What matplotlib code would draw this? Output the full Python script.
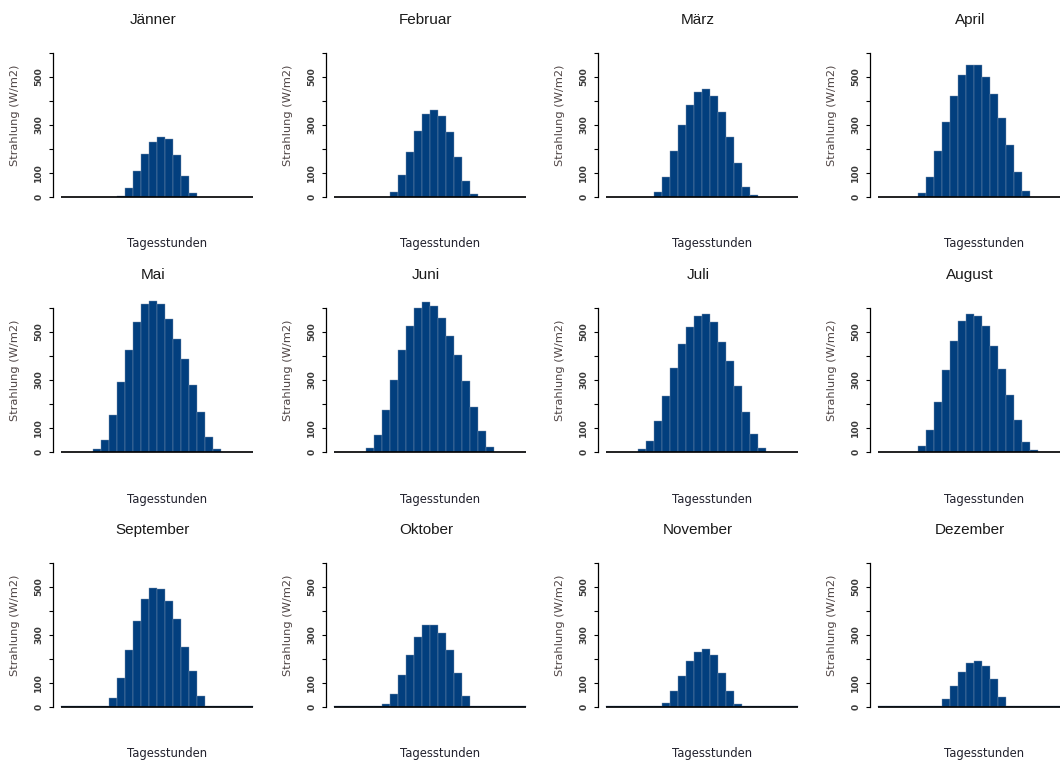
import numpy as np
import matplotlib
matplotlib.use("Agg")
import matplotlib.pyplot as plt

# hourly mean irradiance (W/m2), hours 0..23
months = ["Jänner", "Februar", "März", "April", "Mai", "Juni",
          "Juli", "August", "September", "Oktober", "November", "Dezember"]

jan = [0, 0, 0, 0, 0, 0, 0, 5, 39, 107, 179, 229, 251, 242, 175, 89, 18, 0, 0, 0, 0, 0, 0, 0]
feb = [0, 0, 0, 0, 0, 0, 0, 21, 93, 188, 274, 346, 364, 336, 269, 165, 65, 11, 0, 0, 0, 0, 0, 0]
mar = [0, 0, 0, 0, 0, 0, 21, 83, 193, 300, 382, 436, 450, 422, 354, 251, 142, 42, 7, 0, 0, 0, 0, 0]
apr = [0, 0, 0, 0, 0, 17, 83, 193, 314, 422, 508, 549, 549, 500, 428, 329, 215, 106, 25, 0, 0, 0, 0, 0]
mai = [0, 0, 0, 0, 11, 51, 156, 290, 424, 542, 617, 629, 617, 553, 471, 388, 278, 165, 61, 11, 0, 0, 0, 0]
jun = [0, 0, 0, 0, 15, 71, 174, 300, 424, 526, 599, 625, 607, 558, 482, 404, 296, 189, 88, 19, 0, 0, 0, 0]
jul = [0, 0, 0, 0, 11, 47, 129, 235, 351, 450, 522, 567, 576, 542, 458, 378, 274, 165, 76, 15, 0, 0, 0, 0]
aug = [0, 0, 0, 0, 0, 25, 93, 210, 342, 464, 546, 576, 567, 526, 442, 347, 238, 133, 43, 7, 0, 0, 0, 0]
sep = [4, 4, 4, 4, 4, 4, 39, 121, 238, 360, 450, 496, 490, 442, 365, 251, 149, 47, 4, 4, 4, 4, 4, 4]
okt = [5, 5, 5, 5, 5, 5, 12, 53, 133, 215, 292, 342, 342, 310, 238, 143, 47, 5, 5, 5, 5, 5, 5, 5]
nov = [4, 4, 4, 4, 4, 4, 4, 17, 65, 129, 193, 229, 243, 215, 143, 65, 12, 4, 4, 4, 4, 4, 4, 4]
dez = [4, 4, 4, 4, 4, 4, 4, 4, 35, 89, 147, 183, 193, 169, 117, 43, 4, 4, 4, 4, 4, 4, 4, 4]
values = [jan, feb, mar, apr, mai, jun, jul, aug, sep, okt, nov, dez]

hours = np.arange(24)
yticks = [0, 100, 200, 300, 400, 500, 600]
ylabels = ["0", "100", "", "300", "", "500", ""]

W, H = 1060, 760
col_x = [53, 326, 598, 870]      # pixel x of y axis
row_y0 = [197, 452, 707]         # pixel y of value 0
px_unit = 0.24                   # pixels per W/m2
bar_px = 8.0                     # pixels per hour

fig = plt.figure(figsize=(W / 100, H / 100), dpi=100)
plt.rcParams['font.family'] = ['DejaVu Sans']
bar_color = "#023f7e"

for k, (name, vals) in enumerate(zip(months, values)):
    r, c = divmod(k, 4)
    x0, y0 = col_x[c], row_y0[r]
    width_px = 25.92 * bar_px
    height_px = 648 * px_unit
    bottom_px = y0 + 24 * px_unit
    ax = fig.add_axes([x0 / W, (H - bottom_px) / H, width_px / W, height_px / H])
    ax.bar(hours, vals, width=1.0, align="edge", color=bar_color,
           edgecolor="#7d95b0", linewidth=0.3, clip_on=False)
    ax.hlines(0, 0, 24, color="black", lw=1.2, zorder=3)
    ax.set_xlim(-0.96, 24.96)
    ax.set_ylim(-24, 624)
    for s in ["top", "right", "bottom"]:
        ax.spines[s].set_visible(False)
    ax.spines["left"].set_bounds(0, 600)
    ax.spines["left"].set_linewidth(0.9)
    ax.set_xticks([])
    ax.set_yticks(yticks)
    ax.set_yticklabels(ylabels, rotation=90, va="center", fontsize=6.6,
                       fontweight="bold", color="#3a3a3a")
    ax.tick_params(axis="y", length=3, width=0.8, pad=4)
    ax.patch.set_alpha(0)

    fig.text((x0 + 100) / W, 1 - (y0 - 177) / H, name, ha="center", va="center",
             fontsize=11, family="Liberation Sans", color="#1a1a1a")
    fig.text((x0 + 114) / W, 1 - (y0 + 47) / H, "Tagesstunden", ha="center", va="center",
             fontsize=8.4, color="#22222e")
    fig.text((x0 - 38) / W, 1 - (y0 - 82) / H, "Strahlung (W/m2)", ha="center", va="center",
             rotation=90, fontsize=8.2, color="#4f4545")

fig.savefig("out.png", dpi=100, facecolor="white")
